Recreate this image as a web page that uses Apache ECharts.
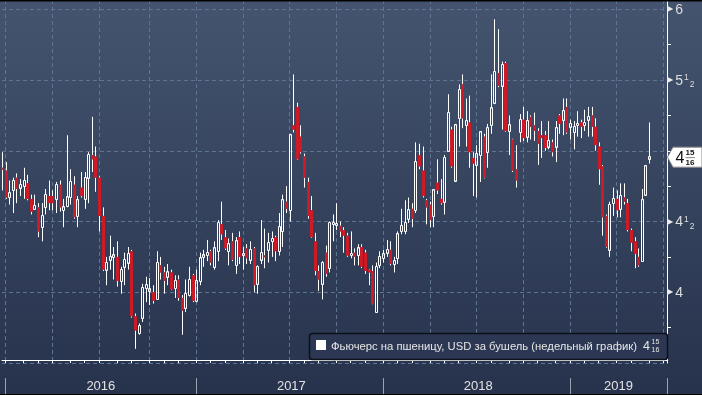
<!DOCTYPE html>
<html><head><meta charset="utf-8">
<script src="https://cdn.jsdelivr.net/npm/echarts@6/dist/echarts.min.js"></script>
<style>html,body{margin:0;padding:0;background:#000;}#c{width:702px;height:395px;}</style>
</head><body><div id="c"></div>
<script>
// Weekly wheat futures candles (USD per bushel), first week 2015-12-25
const opens = [4.88,4.86,4.67,4.72,4.81,4.74,4.75,4.77,4.66,4.59,4.60,4.46,4.60,4.68,4.68,4.66,4.76,4.58,4.61,4.67,4.76,4.54,4.74,4.66,4.81,4.97,4.96,4.81,4.54,4.16,
4.23,4.25,4.25,4.08,4.18,4.21,4.29,3.83,3.71,3.82,4.03,4.01,4.00,3.95,4.19,4.14,4.11,4.14,4.03,4.09,3.96,3.89,3.98,4.12,3.94,4.08,4.25,4.26,4.29,4.18,
4.29,4.48,4.39,4.29,4.36,4.19,4.39,4.26,4.31,4.23,4.31,4.06,4.23,4.26,4.30,4.36,4.39,4.29,4.43,4.64,4.58,5.18,5.31,5.10,4.96,4.78,4.58,4.36,4.15,4.06,
4.28,4.17,4.48,4.475,4.47,4.44,4.40,4.26,4.28,4.26,4.32,4.28,4.16,4.15,3.86,4.19,4.24,4.28,4.30,4.20,4.24,4.43,4.43,4.52,4.59,4.58,4.97,4.86,4.65,4.62,
4.54,4.775,4.66,4.64,5.00,5.15,4.79,5.23,5.47,5.18,5.20,4.95,4.90,4.97,5.10,4.99,5.18,5.34,5.55,5.46,5.62,5.14,5.08,4.87,5.13,5.22,5.10,5.24,5.18,5.14,
5.11,5.11,5.03,5.06,5.03,5.25,5.22,5.31,5.17,5.13,5.18,5.20,5.18,5.22,5.25,5.17,5.03,4.89,4.54,4.30,4.63,4.66,4.59,4.67,4.63,4.44,4.36,4.25,4.22,4.69,
4.945];
const closes = [4.87,4.67,4.70,4.79,4.73,4.76,4.79,4.66,4.57,4.61,4.43,4.54,4.69,4.63,4.63,4.76,4.60,4.60,4.67,4.78,4.53,4.65,4.68,4.81,4.97,4.94,4.81,4.54,4.16,4.21,
4.25,4.26,4.08,4.16,4.23,4.27,3.83,3.73,3.76,4.03,4.05,4.02,3.94,4.21,4.14,4.08,4.14,4.02,4.08,3.96,3.87,3.99,4.09,3.94,4.08,4.24,4.26,4.28,4.21,4.31,
4.49,4.41,4.31,4.34,4.23,4.36,4.25,4.27,4.24,4.30,4.05,4.18,4.28,4.25,4.35,4.38,4.29,4.46,4.65,4.59,5.11,5.15,4.94,4.99,4.81,4.54,4.39,4.15,4.09,4.21,
4.13,4.49,4.49,4.485,4.43,4.40,4.26,4.27,4.25,4.31,4.18,4.15,4.14,3.92,4.18,4.25,4.27,4.30,4.20,4.22,4.41,4.47,4.49,4.58,4.52,4.92,4.89,4.68,4.60,4.51,
4.72,4.72,4.63,4.95,5.27,4.89,5.18,5.43,5.23,5.21,4.99,4.91,4.98,5.13,4.81,5.16,5.30,5.56,5.46,5.61,5.14,5.18,4.86,4.79,5.22,5.09,5.21,5.17,5.14,5.05,
5.09,5.02,5.07,4.99,5.16,5.19,5.28,5.13,5.19,5.17,5.19,5.17,5.20,5.24,5.17,5.04,4.87,4.53,4.32,4.62,4.66,4.58,4.68,4.64,4.44,4.35,4.27,4.19,4.65,4.89,
4.955];
const lows = [4.72,4.66,4.62,4.56,4.63,4.68,4.66,4.65,4.55,4.585,4.39,4.36,4.55,4.58,4.58,4.56,4.57,4.46,4.60,4.62,4.52,4.46,4.67,4.59,4.63,4.85,4.71,4.43,4.15,4.05,
4.16,4.09,4.04,3.99,4.05,4.16,3.82,3.60,3.70,3.79,3.93,3.91,3.92,3.95,4.09,3.99,4.05,4.015,3.96,3.94,3.70,3.86,3.97,3.93,3.93,4.05,4.18,4.22,4.19,4.16,
4.22,4.37,4.30,4.19,4.22,4.13,4.20,4.16,4.20,4.20,4.00,3.99,4.20,4.17,4.21,4.25,4.22,4.26,4.32,4.56,4.50,5.13,4.935,4.98,4.74,4.52,4.385,4.12,4.01,3.95,
4.11,4.14,4.36,4.44,4.39,4.28,4.25,4.24,4.19,4.19,4.17,4.13,4.05,3.915,3.855,4.17,4.21,4.25,4.19,4.14,4.20,4.41,4.41,4.49,4.46,4.56,4.87,4.67,4.48,4.46,
4.46,4.695,4.62,4.55,4.995,4.88,4.785,5.03,5.16,5.03,4.88,4.68,4.67,4.78,4.805,4.88,5.12,5.33,5.45,5.15,5.135,4.97,4.85,4.74,5.06,5.07,5.06,5.08,5.07,4.90,
4.95,5.00,5.01,4.96,4.92,5.12,5.11,5.12,5.08,5.01,5.10,5.09,5.14,5.10,5.10,5.00,4.76,4.40,4.315,4.25,4.54,4.53,4.53,4.62,4.43,4.29,4.17,4.18,4.215,4.685,
4.91];
const highs = [4.99,4.92,4.79,4.81,4.84,4.80,4.88,4.83,4.69,4.69,4.63,4.63,4.73,4.79,4.72,4.78,4.79,4.66,5.11,4.87,4.82,4.68,4.85,4.85,4.99,5.24,5.03,4.82,4.60,4.25,
4.40,4.32,4.36,4.18,4.28,4.32,4.30,3.85,3.78,4.06,4.11,4.10,4.05,4.29,4.25,4.18,4.20,4.16,4.12,4.12,3.98,4.09,4.18,4.13,4.16,4.28,4.30,4.37,4.30,4.36,
4.51,4.64,4.44,4.38,4.42,4.39,4.43,4.32,4.34,4.36,4.32,4.19,4.51,4.45,4.42,4.43,4.40,4.56,4.69,4.75,5.12,5.54,5.34,5.18,4.98,4.81,4.68,4.42,4.19,4.22,
4.33,4.50,4.55,4.63,4.50,4.46,4.42,4.43,4.31,4.34,4.34,4.30,4.165,4.19,4.21,4.29,4.30,4.37,4.36,4.25,4.43,4.59,4.65,4.67,4.63,5.06,5.05,5.03,4.66,4.64,
4.73,4.94,4.80,4.97,5.40,5.17,5.19,5.47,5.54,5.37,5.39,4.99,5.04,5.14,5.12,5.19,5.54,5.93,5.86,5.63,5.63,5.25,5.085,5.04,5.26,5.31,5.28,5.25,5.27,5.16,
5.21,5.14,5.21,5.08,5.21,5.26,5.37,5.37,5.22,5.21,5.28,5.22,5.29,5.31,5.31,5.23,5.06,4.90,4.55,4.64,4.74,4.72,4.77,4.77,4.66,4.45,4.39,4.31,4.73,4.90,
5.20];
const futureWeeks = 5;
const seriesName = 'Фьючерс на пшеницу, USD за бушель (недельный график)';
const yMin = 3.5, yMax = 6.066, yStep = 0.25;

const FONT = "'Liberation Sans',Arial,sans-serif";
const weeks = [];
const t0 = Date.UTC(2015, 11, 25);
for (let i = 0; i < opens.length + futureWeeks; i++) {
  weeks.push(new Date(t0 + i * 7 * 86400000).toISOString().slice(0, 10));
}
const monthStart = i => i > 0 && i < weeks.length && weeks[i].slice(0, 7) !== weeks[i - 1].slice(0, 7);
const quarterStart = i => monthStart(i) && ['01','04','07','10'].includes(weeks[i].slice(5, 7));
const yearStart = i => i > 0 && i < weeks.length && weeks[i].slice(0, 4) !== weeks[i - 1].slice(0, 4);
const starts = [];
for (let i = 0; i < weeks.length; i++) if (yearStart(i)) starts.push(i);
const yearMid = new Set(starts.map((s, k) => {
  const e = k + 1 < starts.length ? starts[k + 1] : weeks.length - 1;
  return Math.round((s + e) / 2 - 0.5);
}));
const lastClose = closes[closes.length - 1];
const candleData = opens.map((o, i) => [i, o, closes[i], lows[i], highs[i]]);

const chart = echarts.init(document.getElementById('c'), null, {renderer: 'canvas'});
chart.setOption({
  animation: false,
  backgroundColor: {type: 'linear', x: 0, y: 0, x2: 0, y2: 1,
    colorStops: [{offset: 0, color: '#44546f'}, {offset: 1, color: '#27324c'}]},
  textStyle: {fontFamily: FONT},
  grid: {left: 2, right: 35, top: 0, bottom: 32},
  xAxis: [{
    type: 'category', data: weeks, boundaryGap: false, offset: -3,
    axisLine: {lineStyle: {color: '#ffffff', width: 1}},
    axisTick: {show: true, interval: i => monthStart(i), length: 3, lineStyle: {color: '#ffffff'}},
    axisLabel: {show: false},
    splitLine: {show: true, interval: i => quarterStart(i), lineStyle: {color: '#5e7493', type: [4, 3], width: 1}}
  }, {
    type: 'category', data: weeks.slice(0, weeks.length - 1), boundaryGap: true, position: 'bottom', offset: 15,
    axisLine: {show: false},
    axisTick: {show: true, interval: i => yearStart(i), length: 17, lineStyle: {color: '#9aa2ae'}},
    axisLabel: {show: true, interval: i => yearMid.has(i), formatter: v => v.slice(0, 4),
      color: '#e2e2e2', fontSize: 13, margin: 2, fontFamily: FONT},
    splitLine: {show: false}
  }],
  yAxis: [{
    type: 'value', position: 'right', min: yMin, max: yMax, interval: yStep,
    axisLine: {show: true, lineStyle: {color: '#ffffff', width: 1}},
    axisTick: {show: true, length: 4, lineStyle: {color: '#ffffff'}},
    splitLine: {show: false},
    axisLabel: {
      margin: 0, showMinLabel: false,
      formatter: v => {
        if (v <= yMin) return '';
        if (Math.abs(v * 2 - Math.round(v * 2)) > 1e-6) return '';
        if (Math.abs(v - lastClose) < 0.1) return '';
        const w = Math.floor(v);
        return '{a|▶}{n|' + w + '}' + (v - w > 0.25 ? '{s|1}{b|2}' : '');
      },
      rich: {
        a: {fontSize: 8, color: '#ececec', fontFamily: 'DejaVu Sans', padding: [0, 2, 0, 0]},
        n: {fontSize: 14, color: '#dedede', fontFamily: FONT, lineHeight: 15, padding: [2, 0, 0, 0]},
        s: {fontSize: 8.5, color: '#dedede', fontFamily: FONT, verticalAlign: 'top', lineHeight: 15, padding: [1, 1, 0, 1]},
        b: {fontSize: 8.5, color: '#dedede', fontFamily: FONT, verticalAlign: 'bottom', lineHeight: 15, padding: [0, 0, -2, 0]}
      }
    }
  }, {
    type: 'value', position: 'right', min: yMin, max: yMax, interval: 0.5,
    axisLine: {show: false}, axisTick: {show: false}, axisLabel: {show: false},
    splitLine: {show: true, lineStyle: {color: '#5e7493', type: [4, 3], width: 1}}
  }],
  series: [{
    name: seriesName, type: 'custom', xAxisIndex: 0, yAxisIndex: 0,
    encode: {x: 0, y: [1, 2, 3, 4]},
    data: candleData,
    itemStyle: {color: '#ffffff'},
    renderItem: (params, api) => {
      const i = api.value(0), o = api.value(1), c = api.value(2), lo = api.value(3), hi = api.value(4);
      const pO = api.coord([i, o]), pC = api.coord([i, c]);
      const yL = api.coord([i, lo])[1], yH = api.coord([i, hi])[1];
      const x = Math.round(pO[0]);
      const top = Math.min(pO[1], pC[1]), bot = Math.max(pO[1], pC[1]);
      const ch = [
        {type: 'line', shape: {x1: x + 0.5, y1: yH, x2: x + 0.5, y2: top}, style: {stroke: '#ffffff', lineWidth: 1}},
        {type: 'line', shape: {x1: x + 0.5, y1: bot, x2: x + 0.5, y2: yL}, style: {stroke: '#ffffff', lineWidth: 1}}
      ];
      if (c >= o) {
        const t = Math.round(top) - 0.5, b = Math.max(t + 2, Math.round(bot) + 0.5);
        ch.push({type: 'rect', shape: {x: x - 0.5, y: t, width: 2, height: b - t}, style: {fill: 'none', stroke: '#ffffff', lineWidth: 1}});
      } else {
        ch.push({type: 'rect', shape: {x: x - 1, y: top, width: 3, height: Math.max(2, bot - top)}, style: {fill: '#cc1b27'}});
      }
      return {type: 'group', children: ch};
    }
  }]
});

// price tag and legend box
const whole = Math.floor(lastClose);
let num = Math.round((lastClose - whole) * 16), den = 16;
const gcd = (a, b) => b ? gcd(b, a % b) : a;
const g = gcd(num, den) || 1; num /= g; den /= g;
const py = chart.convertToPixel({yAxisIndex: 0}, lastClose);
const ax = chart.convertToPixel({xAxisIndex: 0}, weeks[weeks.length - 1]);
const W = chart.getWidth(), H = chart.getHeight();
const legX = 309, legY = 333, legW = ax - 309, legH = 26;
// fit legend text to the space between the icon and the value
const mctx = document.createElement('canvas').getContext('2d');
mctx.font = '12px ' + FONT;
const legTextSpace = (ax - 30) - (legX + 22);
const legFont = Math.min(12.5, 12 * legTextSpace / mctx.measureText(seriesName).width);
const txt = (x, y, text, font, fill, va, z) => ({type: 'text', z: z, x: x, y: y,
  style: {text: text, font: font, fill: fill, verticalAlign: va, align: 'left'}});
chart.setOption({
  graphic: [
    {type: 'rect', z: 100, shape: {x: 0, y: 0, width: W, height: 1.5}, style: {fill: '#000'}},
    {type: 'rect', z: 100, shape: {x: 0, y: H - 1, width: W, height: 1}, style: {fill: '#000'}},
    {type: 'polygon', z: 100, shape: {points: [[ax + 0.5, py], [ax + 6, py - 10], [W, py - 10], [W, py + 10], [ax + 6, py + 10]]},
      style: {fill: '#ffffff', stroke: '#8a8a8a', lineWidth: 1}},
    txt(ax + 8.5, py + 1, String(whole), '16px ' + FONT, '#111', 'middle', 110),
    txt(ax + 18.5, py - 0.5, String(num), 'bold 8px ' + FONT, '#111', 'bottom', 110),
    txt(ax + 18.5, py + 1.5, String(den), 'bold 8px ' + FONT, '#111', 'top', 110),
    {type: 'line', z: 110, shape: {x1: ax + 18.5, y1: py + 0.5, x2: ax + 28, y2: py + 0.5}, style: {stroke: '#333', lineWidth: 0.6}},
    {type: 'rect', z: 100, shape: {x: legX + 0.5, y: legY + 0.5, width: legW, height: legH, r: 3},
      style: {fill: '#2c3853', stroke: '#0b0f17', lineWidth: 1.5}},
    {type: 'rect', z: 110, shape: {x: legX + 7, y: legY + 7, width: 10, height: 10}, style: {fill: '#ffffff'}},
    txt(legX + 22, legY + 13.5, seriesName, legFont.toFixed(2) + 'px ' + FONT, '#e6e6e6', 'middle', 110),
    txt(ax - 24, legY + 13.5, String(whole), '12.5px ' + FONT, '#e6e6e6', 'middle', 110),
    txt(ax - 15.5, legY + 13, String(num), '7px ' + FONT, '#e6e6e6', 'bottom', 110),
    txt(ax - 15.5, legY + 14, String(den), '7px ' + FONT, '#e6e6e6', 'top', 110)
  ]
});
</script></body></html>
